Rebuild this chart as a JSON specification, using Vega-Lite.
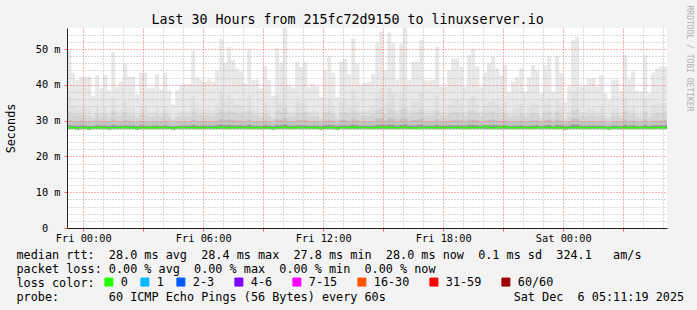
{
"$schema": "https://vega.github.io/schema/vega-lite/v6.json",
"width": 600, "height": 200,
"autosize": {"type": "none"},
"padding": {"left": 67, "top": 28, "right": 30, "bottom": 82},
"background": "#f3f3f3",
"config": {"view": {"fill": "#ffffff", "stroke": null}, "axis": {"labelFont": "DejaVu Sans Mono", "titleFont": "DejaVu Sans Mono"}},
"data": {"values": [
{"s":"2025-12-04T23:12","e":"2025-12-04T23:24","mn":27.6,"md":28.0,"p1":28.7,"p2":30.2,"p3":32.4,"p4":36.8,"mx":49.5,"l":"0"},
{"s":"2025-12-04T23:24","e":"2025-12-04T23:36","mn":27.6,"md":28.0,"p1":28.6,"p2":29.9,"p3":31.8,"p4":34.0,"mx":43.4,"l":"0"},
{"s":"2025-12-04T23:36","e":"2025-12-04T23:48","mn":27.5,"md":27.9,"p1":28.6,"p2":29.8,"p3":31.5,"p4":33.2,"mx":41.3,"l":"0"},
{"s":"2025-12-04T23:48","e":"2025-12-05T00:00","mn":27.6,"md":28.0,"p1":28.7,"p2":30.1,"p3":31.9,"p4":33.5,"mx":42.3,"l":"0"},
{"s":"2025-12-05T00:00","e":"2025-12-05T00:12","mn":27.6,"md":28.0,"p1":28.6,"p2":29.8,"p3":31.6,"p4":33.9,"mx":42.3,"l":"0"},
{"s":"2025-12-05T00:12","e":"2025-12-05T00:24","mn":27.5,"md":27.9,"p1":28.5,"p2":29.7,"p3":31.4,"p4":33.6,"mx":42.3,"l":"0"},
{"s":"2025-12-05T00:24","e":"2025-12-05T00:36","mn":27.6,"md":28.0,"p1":28.5,"p2":29.5,"p3":30.6,"p4":31.5,"mx":36.9,"l":"0"},
{"s":"2025-12-05T00:36","e":"2025-12-05T00:48","mn":27.6,"md":28.0,"p1":28.7,"p2":30.0,"p3":32.0,"p4":34.1,"mx":42.7,"l":"0"},
{"s":"2025-12-05T00:48","e":"2025-12-05T01:00","mn":27.6,"md":28.0,"p1":28.6,"p2":29.6,"p3":31.1,"p4":32.2,"mx":39.0,"l":"0"},
{"s":"2025-12-05T01:00","e":"2025-12-05T01:12","mn":27.6,"md":28.0,"p1":28.6,"p2":29.9,"p3":31.7,"p4":33.8,"mx":42.7,"l":"0"},
{"s":"2025-12-05T01:12","e":"2025-12-05T01:24","mn":27.5,"md":27.9,"p1":28.5,"p2":29.6,"p3":30.9,"p4":31.9,"mx":38.4,"l":"0"},
{"s":"2025-12-05T01:24","e":"2025-12-05T01:36","mn":27.6,"md":28.0,"p1":28.8,"p2":30.4,"p3":32.8,"p4":36.5,"mx":49.2,"l":"0"},
{"s":"2025-12-05T01:36","e":"2025-12-05T01:48","mn":27.6,"md":28.0,"p1":28.6,"p2":29.7,"p3":31.2,"p4":32.4,"mx":39.5,"l":"0"},
{"s":"2025-12-05T01:48","e":"2025-12-05T02:00","mn":27.6,"md":28.0,"p1":28.6,"p2":29.8,"p3":31.4,"p4":33.0,"mx":40.9,"l":"0"},
{"s":"2025-12-05T02:00","e":"2025-12-05T02:12","mn":27.6,"md":28.1,"p1":28.7,"p2":30.2,"p3":32.3,"p4":35.3,"mx":46.0,"l":"0"},
{"s":"2025-12-05T02:12","e":"2025-12-05T02:24","mn":27.6,"md":28.0,"p1":28.6,"p2":29.9,"p3":31.6,"p4":33.7,"mx":42.3,"l":"0"},
{"s":"2025-12-05T02:24","e":"2025-12-05T02:36","mn":27.6,"md":28.0,"p1":28.6,"p2":29.8,"p3":31.5,"p4":33.4,"mx":42.3,"l":"0"},
{"s":"2025-12-05T02:36","e":"2025-12-05T02:48","mn":27.5,"md":27.9,"p1":28.5,"p2":29.5,"p3":30.7,"p4":31.6,"mx":37.4,"l":"0"},
{"s":"2025-12-05T02:48","e":"2025-12-05T03:00","mn":27.6,"md":28.0,"p1":28.7,"p2":30.0,"p3":31.9,"p4":34.2,"mx":43.4,"l":"0"},
{"s":"2025-12-05T03:00","e":"2025-12-05T03:12","mn":27.6,"md":28.0,"p1":28.6,"p2":29.9,"p3":31.7,"p4":34.0,"mx":43.4,"l":"0"},
{"s":"2025-12-05T03:12","e":"2025-12-05T03:24","mn":27.6,"md":28.0,"p1":28.5,"p2":29.6,"p3":31.0,"p4":32.1,"mx":39.0,"l":"0"},
{"s":"2025-12-05T03:24","e":"2025-12-05T03:36","mn":27.6,"md":28.0,"p1":28.6,"p2":29.7,"p3":31.1,"p4":32.3,"mx":39.2,"l":"0"},
{"s":"2025-12-05T03:36","e":"2025-12-05T03:48","mn":27.6,"md":28.0,"p1":28.6,"p2":29.9,"p3":31.8,"p4":33.9,"mx":43.0,"l":"0"},
{"s":"2025-12-05T03:48","e":"2025-12-05T04:00","mn":27.6,"md":28.0,"p1":28.5,"p2":29.6,"p3":31.0,"p4":32.0,"mx":38.8,"l":"0"},
{"s":"2025-12-05T04:00","e":"2025-12-05T04:12","mn":27.6,"md":28.0,"p1":28.7,"p2":30.0,"p3":31.9,"p4":34.1,"mx":43.4,"l":"0"},
{"s":"2025-12-05T04:12","e":"2025-12-05T04:24","mn":27.6,"md":28.0,"p1":28.5,"p2":29.6,"p3":30.9,"p4":31.9,"mx":38.5,"l":"0"},
{"s":"2025-12-05T04:24","e":"2025-12-05T04:36","mn":27.5,"md":27.9,"p1":28.4,"p2":29.2,"p3":30.0,"p4":30.6,"mx":34.4,"l":"0"},
{"s":"2025-12-05T04:36","e":"2025-12-05T04:48","mn":27.6,"md":28.0,"p1":28.5,"p2":29.6,"p3":31.0,"p4":32.0,"mx":38.5,"l":"0"},
{"s":"2025-12-05T04:48","e":"2025-12-05T05:00","mn":27.6,"md":28.0,"p1":28.6,"p2":29.7,"p3":31.3,"p4":32.6,"mx":40.0,"l":"0"},
{"s":"2025-12-05T05:00","e":"2025-12-05T05:12","mn":27.6,"md":28.0,"p1":28.6,"p2":29.8,"p3":31.3,"p4":32.7,"mx":40.2,"l":"0"},
{"s":"2025-12-05T05:12","e":"2025-12-05T05:24","mn":27.6,"md":28.0,"p1":28.6,"p2":29.7,"p3":31.2,"p4":32.5,"mx":40.2,"l":"0"},
{"s":"2025-12-05T05:24","e":"2025-12-05T05:36","mn":27.6,"md":28.0,"p1":28.8,"p2":30.3,"p3":32.6,"p4":36.9,"mx":49.5,"l":"0"},
{"s":"2025-12-05T05:36","e":"2025-12-05T05:48","mn":27.6,"md":28.0,"p1":28.6,"p2":29.9,"p3":31.6,"p4":33.5,"mx":42.1,"l":"0"},
{"s":"2025-12-05T05:48","e":"2025-12-05T06:00","mn":27.6,"md":28.0,"p1":28.6,"p2":29.8,"p3":31.5,"p4":33.1,"mx":41.3,"l":"0"},
{"s":"2025-12-05T06:00","e":"2025-12-05T06:12","mn":27.6,"md":28.0,"p1":28.6,"p2":29.8,"p3":31.4,"p4":32.9,"mx":40.8,"l":"0"},
{"s":"2025-12-05T06:12","e":"2025-12-05T06:24","mn":27.6,"md":28.0,"p1":28.6,"p2":29.8,"p3":31.5,"p4":33.3,"mx":41.5,"l":"0"},
{"s":"2025-12-05T06:24","e":"2025-12-05T06:36","mn":27.6,"md":28.0,"p1":28.6,"p2":29.8,"p3":31.4,"p4":33.0,"mx":40.8,"l":"0"},
{"s":"2025-12-05T06:36","e":"2025-12-05T06:48","mn":27.6,"md":28.0,"p1":28.7,"p2":30.0,"p3":32.0,"p4":34.4,"mx":44.1,"l":"0"},
{"s":"2025-12-05T06:48","e":"2025-12-05T07:00","mn":27.6,"md":28.1,"p1":28.9,"p2":30.6,"p3":33.2,"p4":38.3,"mx":52.8,"l":"0"},
{"s":"2025-12-05T07:00","e":"2025-12-05T07:12","mn":27.6,"md":28.0,"p1":28.7,"p2":30.2,"p3":32.3,"p4":35.4,"mx":46.2,"l":"0"},
{"s":"2025-12-05T07:12","e":"2025-12-05T07:24","mn":27.6,"md":28.0,"p1":28.8,"p2":30.4,"p3":32.8,"p4":37.2,"mx":50.5,"l":"0"},
{"s":"2025-12-05T07:24","e":"2025-12-05T07:36","mn":27.6,"md":28.0,"p1":28.7,"p2":30.2,"p3":32.4,"p4":35.6,"mx":46.9,"l":"0"},
{"s":"2025-12-05T07:36","e":"2025-12-05T07:48","mn":27.6,"md":28.0,"p1":28.7,"p2":30.0,"p3":32.0,"p4":34.6,"mx":44.6,"l":"0"},
{"s":"2025-12-05T07:48","e":"2025-12-05T08:00","mn":27.6,"md":28.0,"p1":28.7,"p2":30.0,"p3":31.9,"p4":34.2,"mx":43.7,"l":"0"},
{"s":"2025-12-05T08:00","e":"2025-12-05T08:12","mn":27.6,"md":28.0,"p1":28.6,"p2":29.7,"p3":31.3,"p4":32.7,"mx":40.4,"l":"0"},
{"s":"2025-12-05T08:12","e":"2025-12-05T08:24","mn":27.6,"md":28.0,"p1":28.8,"p2":30.3,"p3":32.7,"p4":37.0,"mx":49.9,"l":"0"},
{"s":"2025-12-05T08:24","e":"2025-12-05T08:36","mn":27.6,"md":28.0,"p1":28.6,"p2":29.8,"p3":31.4,"p4":33.1,"mx":41.3,"l":"0"},
{"s":"2025-12-05T08:36","e":"2025-12-05T08:48","mn":27.6,"md":28.0,"p1":28.6,"p2":29.8,"p3":31.5,"p4":33.2,"mx":41.5,"l":"0"},
{"s":"2025-12-05T08:48","e":"2025-12-05T09:00","mn":27.6,"md":28.0,"p1":28.5,"p2":29.6,"p3":31.0,"p4":32.2,"mx":39.0,"l":"0"},
{"s":"2025-12-05T09:00","e":"2025-12-05T09:12","mn":27.6,"md":28.0,"p1":28.7,"p2":30.1,"p3":32.1,"p4":34.9,"mx":45.3,"l":"0"},
{"s":"2025-12-05T09:12","e":"2025-12-05T09:24","mn":27.6,"md":28.0,"p1":28.6,"p2":29.8,"p3":31.4,"p4":33.0,"mx":41.3,"l":"0"},
{"s":"2025-12-05T09:24","e":"2025-12-05T09:36","mn":27.5,"md":27.9,"p1":28.5,"p2":29.4,"p3":30.6,"p4":31.4,"mx":36.9,"l":"0"},
{"s":"2025-12-05T09:36","e":"2025-12-05T09:48","mn":27.6,"md":28.0,"p1":28.8,"p2":30.4,"p3":32.8,"p4":37.1,"mx":50.2,"l":"0"},
{"s":"2025-12-05T09:48","e":"2025-12-05T10:00","mn":27.6,"md":28.0,"p1":28.7,"p2":30.2,"p3":32.3,"p4":35.3,"mx":46.2,"l":"0"},
{"s":"2025-12-05T10:00","e":"2025-12-05T10:12","mn":27.6,"md":28.1,"p1":29.0,"p2":30.8,"p3":33.5,"p4":39.6,"mx":55.8,"l":"0"},
{"s":"2025-12-05T10:12","e":"2025-12-05T10:24","mn":27.6,"md":28.0,"p1":28.6,"p2":29.7,"p3":31.3,"p4":32.5,"mx":40.0,"l":"0"},
{"s":"2025-12-05T10:24","e":"2025-12-05T10:36","mn":27.6,"md":28.0,"p1":28.6,"p2":29.7,"p3":31.1,"p4":32.3,"mx":39.3,"l":"0"},
{"s":"2025-12-05T10:36","e":"2025-12-05T10:48","mn":27.6,"md":28.0,"p1":28.7,"p2":30.2,"p3":32.3,"p4":35.5,"mx":46.5,"l":"0"},
{"s":"2025-12-05T10:48","e":"2025-12-05T11:00","mn":27.6,"md":28.0,"p1":28.7,"p2":30.1,"p3":32.1,"p4":34.8,"mx":45.0,"l":"0"},
{"s":"2025-12-05T11:00","e":"2025-12-05T11:12","mn":27.6,"md":28.0,"p1":28.7,"p2":30.2,"p3":32.3,"p4":35.4,"mx":46.5,"l":"0"},
{"s":"2025-12-05T11:12","e":"2025-12-05T11:24","mn":27.6,"md":28.0,"p1":28.6,"p2":29.7,"p3":31.1,"p4":32.3,"mx":39.3,"l":"0"},
{"s":"2025-12-05T11:24","e":"2025-12-05T11:36","mn":27.6,"md":28.0,"p1":28.6,"p2":29.7,"p3":31.3,"p4":32.7,"mx":40.4,"l":"0"},
{"s":"2025-12-05T11:36","e":"2025-12-05T11:48","mn":27.6,"md":28.0,"p1":28.6,"p2":29.7,"p3":31.2,"p4":32.4,"mx":39.6,"l":"0"},
{"s":"2025-12-05T11:48","e":"2025-12-05T12:00","mn":27.5,"md":27.9,"p1":28.5,"p2":29.4,"p3":30.5,"p4":31.3,"mx":36.6,"l":"0"},
{"s":"2025-12-05T12:00","e":"2025-12-05T12:12","mn":27.6,"md":28.0,"p1":28.7,"p2":30.0,"p3":32.0,"p4":34.4,"mx":44.1,"l":"0"},
{"s":"2025-12-05T12:12","e":"2025-12-05T12:24","mn":27.6,"md":28.0,"p1":28.8,"p2":30.3,"p3":32.5,"p4":36.1,"mx":48.0,"l":"0"},
{"s":"2025-12-05T12:24","e":"2025-12-05T12:36","mn":27.6,"md":28.0,"p1":28.7,"p2":30.0,"p3":31.8,"p4":34.1,"mx":43.4,"l":"0"},
{"s":"2025-12-05T12:36","e":"2025-12-05T12:48","mn":27.5,"md":27.9,"p1":28.5,"p2":29.4,"p3":30.5,"p4":31.3,"mx":36.5,"l":"0"},
{"s":"2025-12-05T12:48","e":"2025-12-05T13:00","mn":27.6,"md":28.0,"p1":28.7,"p2":30.2,"p3":32.3,"p4":35.5,"mx":46.5,"l":"0"},
{"s":"2025-12-05T13:00","e":"2025-12-05T13:12","mn":27.6,"md":28.0,"p1":28.7,"p2":30.2,"p3":32.4,"p4":35.8,"mx":47.2,"l":"0"},
{"s":"2025-12-05T13:12","e":"2025-12-05T13:24","mn":27.6,"md":28.0,"p1":28.6,"p2":29.9,"p3":31.8,"p4":33.9,"mx":43.0,"l":"0"},
{"s":"2025-12-05T13:24","e":"2025-12-05T13:36","mn":27.6,"md":28.1,"p1":28.9,"p2":30.6,"p3":33.2,"p4":38.4,"mx":53.0,"l":"0"},
{"s":"2025-12-05T13:36","e":"2025-12-05T13:48","mn":27.6,"md":28.0,"p1":28.7,"p2":30.2,"p3":32.3,"p4":35.2,"mx":46.0,"l":"0"},
{"s":"2025-12-05T13:48","e":"2025-12-05T14:00","mn":27.6,"md":28.0,"p1":28.6,"p2":29.7,"p3":31.3,"p4":32.6,"mx":40.0,"l":"0"},
{"s":"2025-12-05T14:00","e":"2025-12-05T14:12","mn":27.6,"md":28.0,"p1":28.6,"p2":29.8,"p3":31.3,"p4":32.8,"mx":40.6,"l":"0"},
{"s":"2025-12-05T14:12","e":"2025-12-05T14:24","mn":27.6,"md":28.0,"p1":28.6,"p2":29.8,"p3":31.4,"p4":33.0,"mx":40.9,"l":"0"},
{"s":"2025-12-05T14:24","e":"2025-12-05T14:36","mn":27.6,"md":28.0,"p1":28.6,"p2":29.9,"p3":31.8,"p4":33.9,"mx":43.0,"l":"0"},
{"s":"2025-12-05T14:36","e":"2025-12-05T14:48","mn":27.6,"md":28.0,"p1":28.8,"p2":30.5,"p3":33.0,"p4":37.8,"mx":51.8,"l":"0"},
{"s":"2025-12-05T14:48","e":"2025-12-05T15:00","mn":27.6,"md":28.1,"p1":28.9,"p2":30.7,"p3":33.4,"p4":39.1,"mx":54.8,"l":"0"},
{"s":"2025-12-05T15:00","e":"2025-12-05T15:12","mn":27.6,"md":28.0,"p1":28.7,"p2":30.0,"p3":32.0,"p4":34.4,"mx":44.1,"l":"0"},
{"s":"2025-12-05T15:12","e":"2025-12-05T15:24","mn":27.6,"md":28.1,"p1":28.9,"p2":30.7,"p3":33.4,"p4":39.0,"mx":54.6,"l":"0"},
{"s":"2025-12-05T15:24","e":"2025-12-05T15:36","mn":27.6,"md":28.0,"p1":28.8,"p2":30.5,"p3":33.0,"p4":37.7,"mx":51.6,"l":"0"},
{"s":"2025-12-05T15:36","e":"2025-12-05T15:48","mn":27.6,"md":28.0,"p1":28.6,"p2":29.8,"p3":31.4,"p4":33.1,"mx":41.3,"l":"0"},
{"s":"2025-12-05T15:48","e":"2025-12-05T16:00","mn":27.6,"md":28.0,"p1":28.8,"p2":30.5,"p3":33.0,"p4":37.6,"mx":51.4,"l":"0"},
{"s":"2025-12-05T16:00","e":"2025-12-05T16:12","mn":27.6,"md":28.1,"p1":29.0,"p2":30.8,"p3":33.6,"p4":39.7,"mx":56.0,"l":"0"},
{"s":"2025-12-05T16:12","e":"2025-12-05T16:24","mn":27.6,"md":28.0,"p1":28.6,"p2":29.8,"p3":31.4,"p4":33.1,"mx":41.3,"l":"0"},
{"s":"2025-12-05T16:24","e":"2025-12-05T16:36","mn":27.6,"md":27.9,"p1":28.7,"p2":30.2,"p3":32.3,"p4":35.5,"mx":46.5,"l":"0"},
{"s":"2025-12-05T16:36","e":"2025-12-05T16:48","mn":27.6,"md":27.9,"p1":28.7,"p2":30.2,"p3":32.3,"p4":35.4,"mx":46.5,"l":"0"},
{"s":"2025-12-05T16:48","e":"2025-12-05T17:00","mn":27.6,"md":27.9,"p1":28.9,"p2":30.6,"p3":33.1,"p4":38.1,"mx":52.5,"l":"0"},
{"s":"2025-12-05T17:00","e":"2025-12-05T17:12","mn":27.6,"md":28.0,"p1":28.6,"p2":29.8,"p3":31.4,"p4":33.1,"mx":41.3,"l":"0"},
{"s":"2025-12-05T17:12","e":"2025-12-05T17:24","mn":27.6,"md":28.0,"p1":28.6,"p2":29.8,"p3":31.5,"p4":33.2,"mx":41.3,"l":"0"},
{"s":"2025-12-05T17:24","e":"2025-12-05T17:36","mn":27.6,"md":28.0,"p1":28.6,"p2":29.8,"p3":31.4,"p4":33.0,"mx":41.3,"l":"0"},
{"s":"2025-12-05T17:36","e":"2025-12-05T17:48","mn":27.6,"md":28.0,"p1":28.8,"p2":30.4,"p3":32.8,"p4":37.3,"mx":50.6,"l":"0"},
{"s":"2025-12-05T17:48","e":"2025-12-05T18:00","mn":27.6,"md":28.0,"p1":28.6,"p2":29.7,"p3":31.2,"p4":32.4,"mx":39.5,"l":"0"},
{"s":"2025-12-05T18:00","e":"2025-12-05T18:12","mn":27.6,"md":28.0,"p1":28.6,"p2":29.7,"p3":31.1,"p4":32.3,"mx":39.5,"l":"0"},
{"s":"2025-12-05T18:12","e":"2025-12-05T18:24","mn":27.6,"md":28.0,"p1":28.7,"p2":30.0,"p3":32.0,"p4":34.4,"mx":44.1,"l":"0"},
{"s":"2025-12-05T18:24","e":"2025-12-05T18:36","mn":27.6,"md":28.0,"p1":28.7,"p2":30.2,"p3":32.4,"p4":35.8,"mx":47.4,"l":"0"},
{"s":"2025-12-05T18:36","e":"2025-12-05T18:48","mn":27.6,"md":28.0,"p1":28.7,"p2":30.3,"p3":32.4,"p4":35.9,"mx":47.4,"l":"0"},
{"s":"2025-12-05T18:48","e":"2025-12-05T19:00","mn":27.6,"md":28.0,"p1":28.7,"p2":30.1,"p3":32.1,"p4":34.8,"mx":45.1,"l":"0"},
{"s":"2025-12-05T19:00","e":"2025-12-05T19:12","mn":27.6,"md":28.0,"p1":28.6,"p2":29.7,"p3":31.2,"p4":32.4,"mx":39.5,"l":"0"},
{"s":"2025-12-05T19:12","e":"2025-12-05T19:24","mn":27.6,"md":28.0,"p1":28.8,"p2":30.3,"p3":32.6,"p4":36.2,"mx":48.3,"l":"0"},
{"s":"2025-12-05T19:24","e":"2025-12-05T19:36","mn":27.6,"md":28.0,"p1":28.8,"p2":30.3,"p3":32.7,"p4":36.9,"mx":49.9,"l":"0"},
{"s":"2025-12-05T19:36","e":"2025-12-05T19:48","mn":27.6,"md":28.0,"p1":28.7,"p2":30.1,"p3":32.1,"p4":34.8,"mx":45.2,"l":"0"},
{"s":"2025-12-05T19:48","e":"2025-12-05T20:00","mn":27.6,"md":28.0,"p1":28.6,"p2":29.7,"p3":31.2,"p4":32.4,"mx":39.5,"l":"0"},
{"s":"2025-12-05T20:00","e":"2025-12-05T20:12","mn":27.6,"md":28.4,"p1":28.7,"p2":30.0,"p3":31.8,"p4":34.1,"mx":43.4,"l":"0"},
{"s":"2025-12-05T20:12","e":"2025-12-05T20:24","mn":27.6,"md":28.0,"p1":28.7,"p2":30.2,"p3":32.3,"p4":35.2,"mx":46.0,"l":"0"},
{"s":"2025-12-05T20:24","e":"2025-12-05T20:36","mn":27.6,"md":28.0,"p1":28.8,"p2":30.3,"p3":32.5,"p4":36.1,"mx":47.9,"l":"0"},
{"s":"2025-12-05T20:36","e":"2025-12-05T20:48","mn":27.6,"md":28.0,"p1":28.7,"p2":30.0,"p3":32.0,"p4":34.6,"mx":44.6,"l":"0"},
{"s":"2025-12-05T20:48","e":"2025-12-05T21:00","mn":27.6,"md":28.0,"p1":28.6,"p2":29.9,"p3":31.7,"p4":33.8,"mx":42.7,"l":"0"},
{"s":"2025-12-05T21:00","e":"2025-12-05T21:12","mn":27.6,"md":28.3,"p1":28.7,"p2":30.1,"p3":32.2,"p4":35.0,"mx":45.5,"l":"0"},
{"s":"2025-12-05T21:12","e":"2025-12-05T21:24","mn":27.6,"md":28.0,"p1":28.5,"p2":29.6,"p3":30.9,"p4":31.8,"mx":38.1,"l":"0"},
{"s":"2025-12-05T21:24","e":"2025-12-05T21:36","mn":27.6,"md":28.0,"p1":28.6,"p2":29.8,"p3":31.4,"p4":33.0,"mx":40.9,"l":"0"},
{"s":"2025-12-05T21:36","e":"2025-12-05T21:48","mn":27.6,"md":28.0,"p1":28.6,"p2":29.9,"p3":31.6,"p4":33.5,"mx":42.1,"l":"0"},
{"s":"2025-12-05T21:48","e":"2025-12-05T22:00","mn":27.6,"md":28.0,"p1":28.7,"p2":30.0,"p3":32.0,"p4":34.6,"mx":44.6,"l":"0"},
{"s":"2025-12-05T22:00","e":"2025-12-05T22:12","mn":27.6,"md":28.0,"p1":28.5,"p2":29.6,"p3":30.9,"p4":31.8,"mx":38.1,"l":"0"},
{"s":"2025-12-05T22:12","e":"2025-12-05T22:24","mn":27.6,"md":28.0,"p1":28.6,"p2":29.9,"p3":31.6,"p4":33.5,"mx":42.1,"l":"0"},
{"s":"2025-12-05T22:24","e":"2025-12-05T22:36","mn":27.6,"md":28.0,"p1":28.7,"p2":30.1,"p3":32.2,"p4":35.0,"mx":45.5,"l":"0"},
{"s":"2025-12-05T22:36","e":"2025-12-05T22:48","mn":27.6,"md":28.0,"p1":28.7,"p2":30.0,"p3":32.0,"p4":34.4,"mx":44.1,"l":"0"},
{"s":"2025-12-05T22:48","e":"2025-12-05T23:00","mn":27.6,"md":28.0,"p1":28.5,"p2":29.5,"p3":30.8,"p4":31.6,"mx":37.6,"l":"0"},
{"s":"2025-12-05T23:00","e":"2025-12-05T23:12","mn":27.6,"md":28.0,"p1":28.7,"p2":30.1,"p3":32.2,"p4":35.0,"mx":45.5,"l":"0"},
{"s":"2025-12-05T23:12","e":"2025-12-05T23:24","mn":27.6,"md":28.0,"p1":28.8,"p2":30.3,"p3":32.5,"p4":36.1,"mx":48.0,"l":"0"},
{"s":"2025-12-05T23:24","e":"2025-12-05T23:36","mn":27.6,"md":28.0,"p1":28.5,"p2":29.6,"p3":30.9,"p4":31.8,"mx":38.1,"l":"0"},
{"s":"2025-12-05T23:36","e":"2025-12-05T23:48","mn":27.6,"md":28.0,"p1":28.8,"p2":30.3,"p3":32.5,"p4":36.0,"mx":48.0,"l":"0"},
{"s":"2025-12-05T23:48","e":"2025-12-06T00:00","mn":27.6,"md":28.0,"p1":28.7,"p2":30.0,"p3":31.8,"p4":33.9,"mx":43.2,"l":"0"},
{"s":"2025-12-06T00:00","e":"2025-12-06T00:12","mn":27.5,"md":27.9,"p1":28.4,"p2":29.3,"p3":30.2,"p4":30.9,"mx":35.3,"l":"0"},
{"s":"2025-12-06T00:12","e":"2025-12-06T00:24","mn":27.6,"md":28.0,"p1":28.6,"p2":29.7,"p3":31.2,"p4":32.4,"mx":39.5,"l":"0"},
{"s":"2025-12-06T00:24","e":"2025-12-06T00:36","mn":27.6,"md":28.0,"p1":28.9,"p2":30.6,"p3":33.1,"p4":38.1,"mx":52.5,"l":"0"},
{"s":"2025-12-06T00:36","e":"2025-12-06T00:48","mn":27.6,"md":28.0,"p1":28.9,"p2":30.6,"p3":33.2,"p4":38.5,"mx":53.4,"l":"0"},
{"s":"2025-12-06T00:48","e":"2025-12-06T01:00","mn":27.6,"md":28.0,"p1":28.6,"p2":29.7,"p3":31.2,"p4":32.3,"mx":39.5,"l":"0"},
{"s":"2025-12-06T01:00","e":"2025-12-06T01:12","mn":27.6,"md":28.0,"p1":28.6,"p2":29.7,"p3":31.2,"p4":32.5,"mx":39.9,"l":"0"},
{"s":"2025-12-06T01:12","e":"2025-12-06T01:24","mn":27.6,"md":28.0,"p1":28.6,"p2":29.9,"p3":31.5,"p4":33.3,"mx":41.8,"l":"0"},
{"s":"2025-12-06T01:24","e":"2025-12-06T01:36","mn":27.6,"md":28.0,"p1":28.6,"p2":29.9,"p3":31.6,"p4":33.4,"mx":41.8,"l":"0"},
{"s":"2025-12-06T01:36","e":"2025-12-06T01:48","mn":27.6,"md":28.0,"p1":28.6,"p2":29.7,"p3":31.2,"p4":32.4,"mx":39.5,"l":"0"},
{"s":"2025-12-06T01:48","e":"2025-12-06T02:00","mn":27.6,"md":28.0,"p1":28.6,"p2":29.9,"p3":31.7,"p4":33.7,"mx":42.7,"l":"0"},
{"s":"2025-12-06T02:00","e":"2025-12-06T02:12","mn":27.6,"md":28.0,"p1":28.5,"p2":29.5,"p3":30.8,"p4":31.6,"mx":37.6,"l":"0"},
{"s":"2025-12-06T02:12","e":"2025-12-06T02:24","mn":27.5,"md":27.9,"p1":28.4,"p2":29.3,"p3":30.3,"p4":31.0,"mx":35.8,"l":"0"},
{"s":"2025-12-06T02:24","e":"2025-12-06T02:36","mn":27.6,"md":28.0,"p1":28.6,"p2":29.8,"p3":31.5,"p4":33.2,"mx":41.5,"l":"0"},
{"s":"2025-12-06T02:36","e":"2025-12-06T02:48","mn":27.6,"md":28.0,"p1":28.6,"p2":29.8,"p3":31.5,"p4":33.3,"mx":41.5,"l":"0"},
{"s":"2025-12-06T02:48","e":"2025-12-06T03:00","mn":27.6,"md":28.0,"p1":28.5,"p2":29.6,"p3":30.9,"p4":31.8,"mx":38.1,"l":"0"},
{"s":"2025-12-06T03:00","e":"2025-12-06T03:12","mn":27.6,"md":28.0,"p1":28.8,"p2":30.3,"p3":32.6,"p4":36.2,"mx":48.3,"l":"0"},
{"s":"2025-12-06T03:12","e":"2025-12-06T03:24","mn":27.6,"md":28.0,"p1":28.6,"p2":29.8,"p3":31.5,"p4":33.2,"mx":41.5,"l":"0"},
{"s":"2025-12-06T03:24","e":"2025-12-06T03:36","mn":27.6,"md":28.0,"p1":28.7,"p2":30.0,"p3":31.9,"p4":34.2,"mx":43.7,"l":"0"},
{"s":"2025-12-06T03:36","e":"2025-12-06T03:48","mn":27.6,"md":28.0,"p1":28.5,"p2":29.6,"p3":30.9,"p4":31.9,"mx":38.4,"l":"0"},
{"s":"2025-12-06T03:48","e":"2025-12-06T04:00","mn":27.6,"md":28.0,"p1":28.5,"p2":29.6,"p3":30.9,"p4":31.8,"mx":38.1,"l":"0"},
{"s":"2025-12-06T04:00","e":"2025-12-06T04:12","mn":27.6,"md":28.0,"p1":28.8,"p2":30.3,"p3":32.6,"p4":36.2,"mx":48.3,"l":"0"},
{"s":"2025-12-06T04:12","e":"2025-12-06T04:24","mn":27.6,"md":28.0,"p1":28.5,"p2":29.5,"p3":30.8,"p4":31.6,"mx":37.6,"l":"0"},
{"s":"2025-12-06T04:24","e":"2025-12-06T04:36","mn":27.6,"md":28.0,"p1":28.7,"p2":30.0,"p3":31.8,"p4":34.1,"mx":43.4,"l":"0"},
{"s":"2025-12-06T04:36","e":"2025-12-06T04:48","mn":27.6,"md":28.0,"p1":28.7,"p2":30.0,"p3":32.0,"p4":34.6,"mx":44.6,"l":"0"},
{"s":"2025-12-06T04:48","e":"2025-12-06T05:00","mn":27.6,"md":28.0,"p1":28.7,"p2":30.1,"p3":32.1,"p4":34.8,"mx":45.2,"l":"0"},
{"s":"2025-12-06T05:00","e":"2025-12-06T05:12","mn":27.6,"md":28.0,"p1":28.7,"p2":30.1,"p3":32.1,"p4":34.9,"mx":45.2,"l":"0"}
]},
"layer": [
{"mark": {"type": "rect", "color": "#e8e8e8", "clip": true},
 "encoding": {
  "x": {"field": "s", "type": "temporal", "scale": {"domain": [{"year":2025,"month":12,"date":4,"hours":23,"minutes":11,"seconds":19},{"year":2025,"month":12,"date":6,"hours":5,"minutes":11,"seconds":19}]},
   "axis": {"orient": "bottom", "values": [{"year":2025,"month":12,"date":5,"hours":1},{"year":2025,"month":12,"date":5,"hours":2},{"year":2025,"month":12,"date":5,"hours":4},{"year":2025,"month":12,"date":5,"hours":5},{"year":2025,"month":12,"date":5,"hours":7},{"year":2025,"month":12,"date":5,"hours":8},{"year":2025,"month":12,"date":5,"hours":10},{"year":2025,"month":12,"date":5,"hours":11},{"year":2025,"month":12,"date":5,"hours":13},{"year":2025,"month":12,"date":5,"hours":14},{"year":2025,"month":12,"date":5,"hours":16},{"year":2025,"month":12,"date":5,"hours":17},{"year":2025,"month":12,"date":5,"hours":19},{"year":2025,"month":12,"date":5,"hours":20},{"year":2025,"month":12,"date":5,"hours":22},{"year":2025,"month":12,"date":5,"hours":23},{"year":2025,"month":12,"date":6,"hours":1},{"year":2025,"month":12,"date":6,"hours":2},{"year":2025,"month":12,"date":6,"hours":4},{"year":2025,"month":12,"date":6,"hours":5}],
    "grid": true, "gridColor": "#b4b4b4", "gridDash": [1, 2], "ticks": false, "labels": false, "domain": false, "title": null, "zindex": 1}},
  "x2": {"field": "e"},
  "y": {"field": "mx", "type": "quantitative", "scale": {"domain": [0, 55.87], "nice": false, "zero": false},
   "axis": {"orient": "left", "values": [2,4,6,8,12,14,16,18,22,24,26,28,32,34,36,38,42,44,46,48,52,54], "grid": true, "gridColor": "#b4b4b4", "gridDash": [1, 2], "ticks": false, "labels": false, "domain": false, "title": null, "zindex": 1}},
  "y2": {"field": "mn"}
 }},
{"mark": {"type": "rect", "color": "#e0e0e0", "clip": true},
 "encoding": {
  "x": {"field": "s", "type": "temporal",
   "axis": {"orient": "bottom", "values": [{"year":2025,"month":12,"date":5,"hours":0},{"year":2025,"month":12,"date":5,"hours":3},{"year":2025,"month":12,"date":5,"hours":6},{"year":2025,"month":12,"date":5,"hours":9},{"year":2025,"month":12,"date":5,"hours":12},{"year":2025,"month":12,"date":5,"hours":15},{"year":2025,"month":12,"date":5,"hours":18},{"year":2025,"month":12,"date":5,"hours":21},{"year":2025,"month":12,"date":6,"hours":0},{"year":2025,"month":12,"date":6,"hours":3}],
    "labelExpr": "hours(datum.value) % 6 == 0 ? timeFormat(datum.value, '%a %H:%M') : ''",
    "grid": true, "gridColor": "#ff5e5e", "gridDash": [1, 2], "tickColor": "#ff5e5e", "tickSize": 3,
    "domain": true, "domainColor": "#222222", "labelFontSize": 10.3, "labelColor": "#000000", "labelPadding": 2, "labelFlush": false, "labelOverlap": false, "labelBound": false,
    "title": ["median rtt:\u00a0\u00a028.0 ms avg\u00a0\u00a028.4 ms max\u00a0\u00a027.8 ms min\u00a0\u00a028.0 ms now\u00a0\u00a00.1 ms sd\u00a0\u00a0324.1\u00a0\u00a0\u00a0am/s", "packet loss: 0.00 % avg\u00a0\u00a00.00 % max\u00a0\u00a00.00 % min\u00a0\u00a00.00 % now", "loss color:", "probe:\u00a0\u00a0\u00a0\u00a0\u00a0\u00a0\u00a060 ICMP Echo Pings (56 Bytes) every 60s\u00a0\u00a0\u00a0\u00a0\u00a0\u00a0\u00a0\u00a0\u00a0\u00a0\u00a0\u00a0\u00a0\u00a0\u00a0\u00a0\u00a0\u00a0Sat Dec\u00a0\u00a06 05:11:19 2025"],
    "titleFontSize": 11.8, "titleFontWeight": "normal", "titleColor": "#000000", "titleAnchor": "start", "titleAlign": "left", "titleBaseline": "alphabetic", "titleX": -51, "titleY": 30.3, "titleLineHeight": 14, "zindex": 1}},
  "x2": {"field": "e"},
  "y": {"field": "p4", "type": "quantitative",
   "axis": {"orient": "left", "values": [0, 10, 20, 30, 40, 50], "labelExpr": "datum.value == 0 ? '0\u00a0\u00a0\u200b' : datum.value + ' m'",
    "grid": true, "gridColor": "#ff5e5e", "gridDash": [1, 2], "tickColor": "#ff5e5e", "tickSize": 3, "domainColor": "#222222",
    "labelFontSize": 10.3, "labelColor": "#000000", "labelPadding": 4,
    "title": "Seconds", "titleFontSize": 11.8, "titleFontWeight": "normal", "titleColor": "#000000", "titleX": -57, "titleY": 100, "titleAngle": 270, "titleAlign": "center", "titleBaseline": "middle", "zindex": 1}},
  "y2": {"field": "mn"}
 }},
{"mark": {"type": "rect", "color": "#d4d4d4", "clip": true},
 "encoding": {
  "x": {"field": "s", "type": "temporal",
   "axis": {"orient": "top", "domain": false, "ticks": false, "labels": false, "grid": false, "tickCount": 0,
    "title": "Last 30 Hours from 215fc72d9150 to linuxserver.io", "titleFontSize": 13.3, "titleFontWeight": "normal", "titleColor": "#000000", "titleX": 280, "titleY": -4.5, "titleAlign": "center", "titleBaseline": "alphabetic"}},
  "x2": {"field": "e"},
  "y": {"field": "p3", "type": "quantitative",
   "axis": {"orient": "right", "domain": false, "ticks": false, "labels": false, "grid": false, "tickCount": 0,
    "title": "RRDTOOL / TOBI OETIKER", "titleFontSize": 8, "titleFontWeight": "normal", "titleColor": "#b0b0b0", "titleAngle": 90, "titleX": 21, "titleY": -23, "titleAlign": "left", "titleBaseline": "middle"}},
  "y2": {"field": "mn"}
 }},
{"mark": {"type": "rect", "color": "#c2c2c2", "clip": true},
 "encoding": {
  "x": {"field": "s", "type": "temporal", "axis": null}, "x2": {"field": "e"},
  "y": {"field": "p2", "type": "quantitative", "axis": null}, "y2": {"field": "mn"}
 }},
{"mark": {"type": "rect", "color": "#969696", "clip": true},
 "encoding": {
  "x": {"field": "s", "type": "temporal", "axis": null}, "x2": {"field": "e"},
  "y": {"field": "p1", "type": "quantitative", "axis": null}, "y2": {"field": "mn"}
 }},
{"mark": {"type": "rule", "strokeWidth": 2, "clip": true},
 "encoding": {
  "x": {"field": "s", "type": "temporal", "axis": null}, "x2": {"field": "e"},
  "y": {"field": "md", "type": "quantitative", "axis": null},
  "color": {"field": "l", "type": "nominal",
   "scale": {"domain": ["0", "1", "2-3", "4-6", "7-15", "16-30", "31-59", "60/60"], "range": ["#26ff00", "#00b8ff", "#0059ff", "#7e00ff", "#ff00ff", "#ff5500", "#ff0000", "#a10000"]},
   "legend": {"orient": "none", "legendX": 36, "legendY": 248, "direction": "horizontal", "columns": 8, "title": null,
    "labelFont": "DejaVu Sans Mono", "labelFontSize": 11.8, "labelColor": "#000000", "labelOffset": 6, "columnPadding": 10,
    "labelExpr": "indexof(datum.label, '-') >= 0 ? datum.label + '\u00a0\u200b' : datum.label",
    "symbolType": "square", "symbolSize": 64,
    "encode": {"symbols": {"update": {"fill": {"scale": "color", "field": "value"}, "stroke": {"value": "#000000"}, "strokeWidth": {"value": 1}, "opacity": {"value": 1}}}}}}
 }}
],
"resolve": {"axis": {"x": "independent", "y": "independent"}}
}
